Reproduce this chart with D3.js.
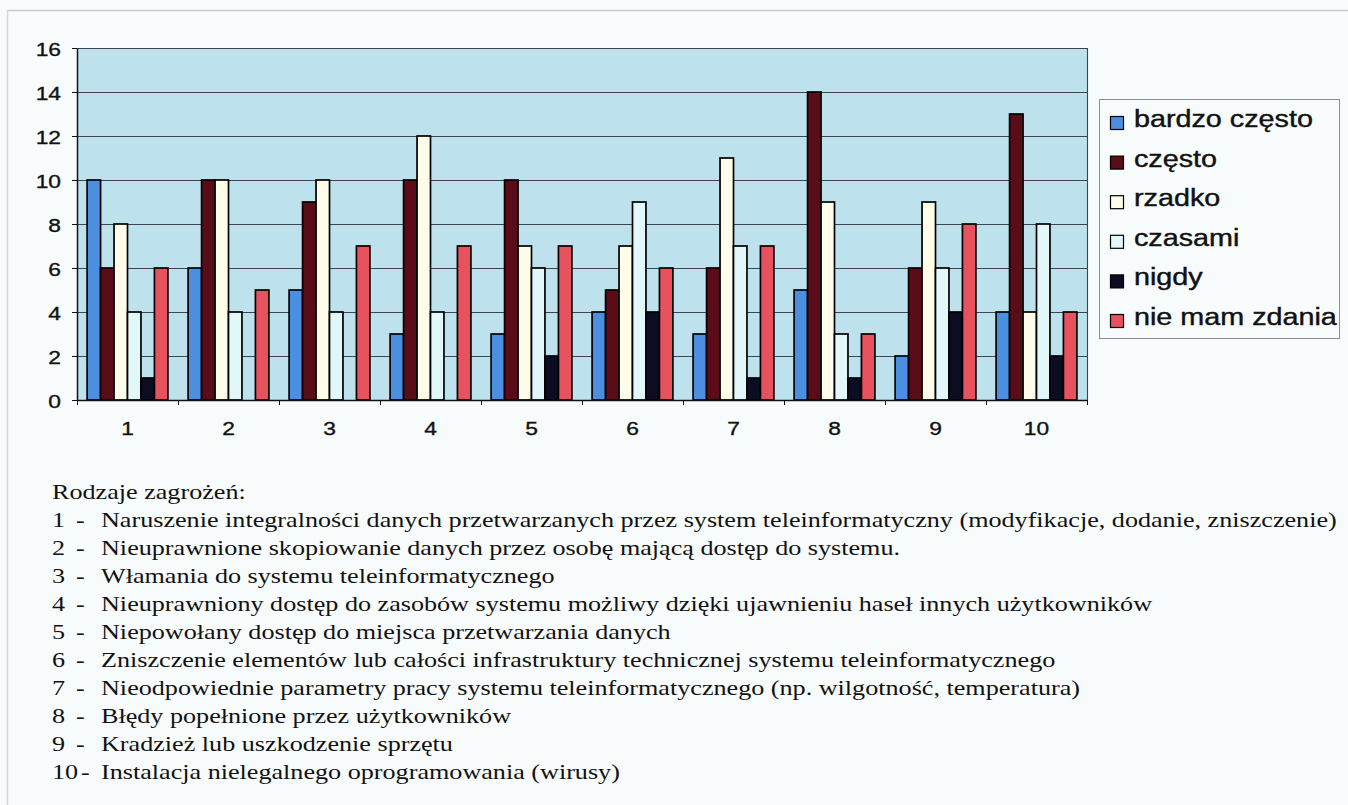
<!DOCTYPE html>
<html>
<head>
<meta charset="utf-8">
<script src="https://cdn.jsdelivr.net/npm/d3@7"></script>
<style>
  html, body { margin: 0; padding: 0; background: #f8fbfc; }
  svg { display: block; }
</style>
</head>
<body>
<svg id="chart" width="1348" height="805"></svg>
<script>
// Threat categories (1..10) and response frequencies per series
const categories = ["1", "2", "3", "4", "5", "6", "7", "8", "9", "10"];
const seriesNames = ["bardzo często", "często", "rzadko", "czasami", "nigdy", "nie mam zdania"];
const bardzoCzesto = [10, 6, 5, 3, 3, 4, 3, 5, 2, 4];
const czesto       = [6, 10, 9, 10, 10, 5, 6, 14, 6, 13];
const rzadko       = [8, 10, 10, 12, 7, 7, 11, 9, 9, 4];
const czasami      = [4, 4, 4, 4, 6, 9, 7, 3, 6, 8];
const nigdy        = [1, 0, 0, 0, 2, 4, 1, 1, 4, 2];
const nieMamZdania = [6, 5, 7, 7, 7, 6, 7, 3, 8, 4];
const yTicks = [0, 2, 4, 6, 8, 10, 12, 14, 16];
const seriesColors = ["#4a8fe0", "#5a0c18", "#fffdea", "#e2f7fa", "#0c0c22", "#e8525e"];

const legendTitle = "Rodzaje zagrożeń:";
const threatNumbers = ["1", "2", "3", "4", "5", "6", "7", "8", "9", "10"];
const threatLabels = [
  "Naruszenie integralności danych przetwarzanych przez system teleinformatyczny (modyfikacje, dodanie, zniszczenie)",
  "Nieuprawnione skopiowanie danych przez osobę mającą dostęp do systemu.",
  "Włamania do systemu teleinformatycznego",
  "Nieuprawniony dostęp do zasobów systemu możliwy dzięki ujawnieniu haseł innych użytkowników",
  "Niepowołany dostęp do miejsca przetwarzania danych",
  "Zniszczenie elementów lub całości infrastruktury technicznej systemu teleinformatycznego",
  "Nieodpowiednie parametry pracy systemu teleinformatycznego (np. wilgotność, temperatura)",
  "Błędy popełnione przez użytkowników",
  "Kradzież lub uszkodzenie sprzętu",
  "Instalacja nielegalnego oprogramowania (wirusy)"
];

const seriesValues = [bardzoCzesto, czesto, rzadko, czasami, nigdy, nieMamZdania];
const rows = categories.map((c, i) => ({
  cat: c,
  vals: seriesNames.map((s, k) => ({ key: s, k, value: seriesValues[k][i] }))
}));

const svg = d3.select("#chart");
const SX = 1.2;    // horizontal stretch of chart labels
const SXL = 1.25;  // legend labels
const SXT = 1.245; // description text

// page frame
svg.append("line").attr("x1", 7).attr("x2", 1348).attr("y1", 10.5).attr("y2", 10.5)
  .attr("stroke", "#c9cccd").attr("stroke-width", 1.5);
svg.append("line").attr("x1", 7.5).attr("x2", 7.5).attr("y1", 10).attr("y2", 805)
  .attr("stroke", "#d4d7d8").attr("stroke-width", 1.5);

const plot = { left: 77, right: 1087, top: 48, bottom: 400 };

const x0 = d3.scaleBand().domain(categories).range([plot.left, plot.right])
  .paddingInner(0.2).paddingOuter(0.1);
const x1 = d3.scaleBand().domain(seriesNames).range([0, x0.bandwidth()]);
const y = d3.scaleLinear().domain([0, 16]).range([plot.bottom, plot.top]);
const color = d3.scaleOrdinal().domain(seriesNames).range(seriesColors);

// plot background
svg.append("rect").attr("x", plot.left).attr("y", plot.top)
  .attr("width", plot.right - plot.left).attr("height", plot.bottom - plot.top)
  .attr("fill", "#bee2ed");

// gridlines
svg.append("g").selectAll("line").data(yTicks.filter(t => t > 0)).join("line")
  .attr("x1", plot.left).attr("x2", plot.right)
  .attr("y1", d => y(d) + 0.5).attr("y2", d => y(d) + 0.5)
  .attr("stroke", "#3f454b").attr("stroke-width", 1.1);

// right border of plot area
svg.append("line").attr("x1", plot.right + 0.5).attr("x2", plot.right + 0.5)
  .attr("y1", plot.top).attr("y2", plot.bottom)
  .attr("stroke", "#3f454b").attr("stroke-width", 1.1);

// bars
const groups = svg.append("g").selectAll("g").data(rows).join("g")
  .attr("transform", d => `translate(${x0(d.cat)},0)`);
groups.selectAll("rect").data(d => d.vals.filter(v => v.value > 0)).join("rect")
  .attr("x", d => x1(d.key))
  .attr("y", d => y(d.value))
  .attr("width", x1.bandwidth())
  .attr("height", d => y(0) - y(d.value))
  .attr("fill", d => color(d.key))
  .attr("stroke", "#000")
  .attr("stroke-width", 1.7);

const sansFont = "'Liberation Sans', Arial, sans-serif";

// y axis
const yAxis = svg.append("g").attr("transform", `translate(${plot.left},0)`)
  .call(d3.axisLeft(y).tickValues(yTicks).tickSize(5).tickSizeOuter(0).tickPadding(0).tickFormat(d3.format("d")));
yAxis.select(".domain").attr("stroke", "#111").attr("stroke-width", 1.5);
yAxis.selectAll(".tick line").attr("stroke", "#111");
yAxis.selectAll(".tick text")
  .attr("x", null).attr("dy", null)
  .attr("font-family", sansFont)
  .attr("font-size", 19).attr("fill", "#111").attr("text-anchor", "end")
  .attr("stroke", "#111").attr("stroke-width", 0.35)
  .attr("transform", `translate(-16,7) scale(${SX},1)`);

// x axis
const xAxis = svg.append("g").attr("transform", `translate(0,${plot.bottom})`)
  .call(d3.axisBottom(x0).tickSize(0).tickSizeOuter(0).tickPadding(0));
xAxis.select(".domain").attr("stroke", "#111").attr("stroke-width", 1.5);
xAxis.selectAll(".tick text")
  .attr("y", null).attr("dy", null)
  .attr("font-family", sansFont)
  .attr("font-size", 19).attr("fill", "#111")
  .attr("stroke", "#111").attr("stroke-width", 0.35)
  .attr("transform", `translate(0,35) scale(${SX},1)`);
// category boundary ticks
const boundaries = categories.map(c => x0(c) - x0.step() * x0.paddingOuter()).concat([plot.right]);
svg.append("g").selectAll("line").data(boundaries).join("line")
  .attr("x1", d => d + 0.5).attr("x2", d => d + 0.5)
  .attr("y1", plot.bottom).attr("y2", plot.bottom + 5)
  .attr("stroke", "#111").attr("stroke-width", 1);

// series legend
const lg = svg.append("g");
lg.append("rect").attr("x", 1099.5).attr("y", 99.5).attr("width", 240).attr("height", 239)
  .attr("fill", "#f8fbfc").attr("stroke", "#8a8d90").attr("stroke-width", 1);
const items = lg.selectAll("g").data(seriesNames).join("g")
  .attr("transform", (d, i) => `translate(0,${127 + i * 39.6})`);
items.append("rect").attr("x", 1110.5).attr("y", -10.5).attr("width", 13).attr("height", 13)
  .attr("fill", d => color(d)).attr("stroke", "#000").attr("stroke-width", 1.2);
items.append("text")
  .attr("transform", `translate(1134,0) scale(${SXL},1)`)
  .attr("font-family", sansFont)
  .attr("font-size", 23).attr("fill", "#111")
  .attr("stroke", "#111").attr("stroke-width", 0.4)
  .text(d => d);

// description of threat types
const desc = svg.append("g").attr("font-family", "'Liberation Serif', 'Times New Roman', serif")
  .attr("font-size", 21).attr("fill", "#111");
desc.append("text").attr("transform", `translate(52,499) scale(${SXT},1)`).text(legendTitle);
const lines = desc.selectAll("g.line").data(threatLabels).join("g")
  .attr("class", "line")
  .attr("transform", (d, i) => `translate(0,${527 + i * 28})`);
lines.append("text").attr("transform", `translate(52,0) scale(${SXT},1)`)
  .text((d, i) => threatNumbers[i]);
lines.append("text").attr("transform", (d, i) => `translate(${i === 9 ? 81 : 76},0) scale(${SXT},1)`)
  .text("-");
lines.append("text").attr("transform", `translate(101,0) scale(${SXT},1)`)
  .text(d => d);
</script>
</body>
</html>
